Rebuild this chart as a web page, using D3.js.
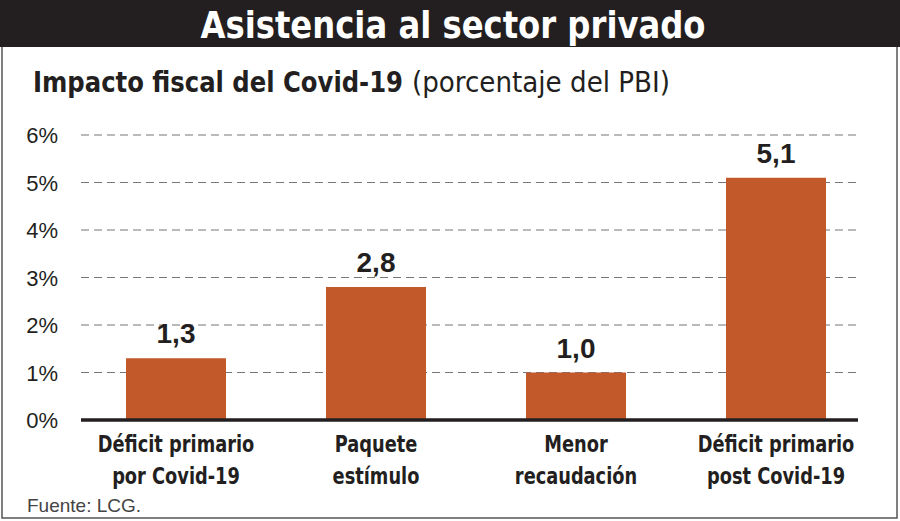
<!DOCTYPE html>
<html><head><meta charset="utf-8">
<script src="https://cdn.jsdelivr.net/npm/d3@7"></script>
<style>
body{margin:0;background:#fff;}
svg{display:block;}
.cond{font-family:"Liberation Sans Narrow","DejaVu Sans Condensed","Roboto",sans-serif;}
.reg{font-family:"Liberation Sans","Arial",sans-serif;}
</style></head>
<body>
<svg id="c" width="900" height="521"></svg>
<script>
const title = "Asistencia al sector privado";
const subtitleBold = "Impacto fiscal del Covid-19";
const subtitleReg = "(porcentaje del PBI)";
const source = "Fuente: LCG.";
const categories = [
  ["Déficit primario", "por Covid-19"],
  ["Paquete", "estímulo"],
  ["Menor", "recaudación"],
  ["Déficit primario", "post Covid-19"]
];
const values = [1.3, 2.8, 1.0, 5.1];
const valueLabels = ["1,3", "2,8", "1,0", "5,1"];
const yTicks = [0, 1, 2, 3, 4, 5, 6];

const svg = d3.select("#c");
const W = 900, H = 521;

// frame
svg.append("rect").attr("x", 2).attr("y", 1).attr("width", 895).attr("height", 517)
  .attr("fill", "#fff").attr("stroke", "#555").attr("stroke-width", 1.5);
svg.append("rect").attr("x", 0).attr("y", 0).attr("width", W).attr("height", 47).attr("fill", "#231f20");

svg.append("text").attr("class", "cond").attr("x", 453).attr("y", 38)
  .attr("text-anchor", "middle").attr("fill", "#fff")
  .attr("font-size", 38).attr("font-weight", "bold")
  .attr("textLength", 505).attr("lengthAdjust", "spacingAndGlyphs")
  .text(title);

svg.append("text").attr("class", "cond").attr("x", 33).attr("y", 92)
  .attr("fill", "#231f20").attr("font-size", 28).attr("font-weight", "bold")
  .attr("textLength", 370).attr("lengthAdjust", "spacingAndGlyphs")
  .text(subtitleBold);
svg.append("text").attr("class", "cond").attr("x", 412).attr("y", 92)
  .attr("fill", "#231f20").attr("font-size", 28)
  .attr("textLength", 258).attr("lengthAdjust", "spacingAndGlyphs")
  .text(subtitleReg);

const y = d3.scaleLinear().domain([0, 6]).range([420, 135]);
const x = d3.scaleBand().domain(d3.range(categories.length)).range([76, 876])
  .paddingInner(0.5).paddingOuter(0.25);

// grid
const g = svg.append("g");
g.selectAll("line.grid").data(yTicks.filter(d => d > 0)).join("line")
  .attr("x1", 81).attr("x2", 858)
  .attr("y1", d => y(d)).attr("y2", d => y(d))
  .attr("stroke", "#777").attr("stroke-width", 1.2).attr("stroke-dasharray", "8,5");

// y axis labels
const yAxis = d3.axisLeft(y).tickValues(yTicks).tickSize(0).tickPadding(0).tickFormat(d => d + "%");
const ya = svg.append("g").attr("transform", "translate(58,0)").call(yAxis);
ya.select(".domain").remove();
ya.selectAll("text").attr("class", "reg").attr("font-size", 22).attr("fill", "#231f20")
  .attr("dy", "0.36em");

// bars
svg.selectAll("rect.bar").data(values).join("rect").attr("class", "bar")
  .attr("x", (d, i) => x(i)).attr("width", x.bandwidth())
  .attr("y", d => y(d)).attr("height", d => y(0) - y(d))
  .attr("fill", "#c1592b");

// value labels
svg.selectAll("text.val").data(values).join("text").attr("class", "val reg")
  .attr("x", (d, i) => x(i) + x.bandwidth() / 2).attr("y", d => y(d) - 15)
  .attr("text-anchor", "middle").attr("font-size", 28).attr("font-weight", "bold")
  .attr("fill", "#231f20")
  .text((d, i) => valueLabels[i]);

// baseline
svg.append("line").attr("x1", 81).attr("x2", 858).attr("y1", y(0)).attr("y2", y(0))
  .attr("stroke", "#231f20").attr("stroke-width", 3.5);

// category labels (horizontally condensed)
const catG = svg.selectAll("g.cat").data(categories).join("g").attr("class", "cat")
  .attr("transform", (d, i) => `translate(${x(i) + x.bandwidth() / 2},0) scale(0.86,1)`);
const cat = catG.append("text").attr("class", "cond")
  .attr("text-anchor", "middle").attr("font-size", 23).attr("font-weight", "bold")
  .attr("fill", "#231f20");
cat.each(function(d) {
  const t = d3.select(this);
  d.forEach((line, j) => {
    t.append("tspan").attr("x", 0).attr("y", 452 + j * 32).text(line);
  });
});

svg.append("text").attr("class", "reg").attr("x", 27).attr("y", 512)
  .attr("font-size", 19).attr("fill", "#444").text(source);
</script>
</body></html>
